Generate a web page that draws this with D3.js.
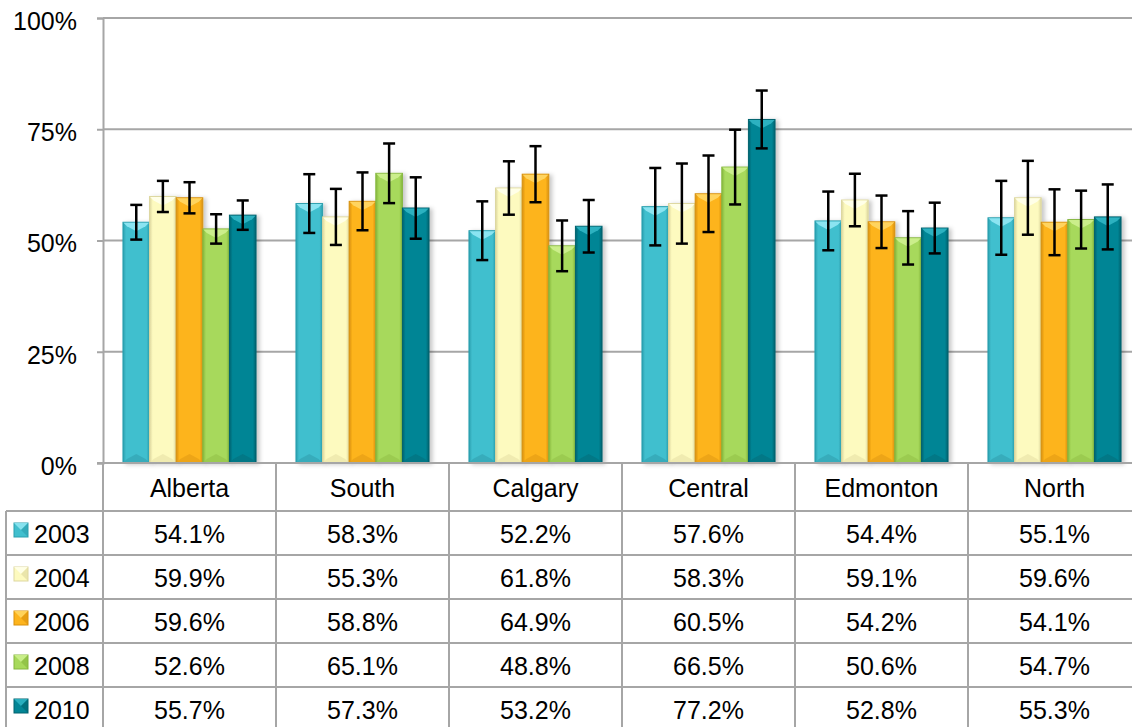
<!DOCTYPE html>
<html>
<head>
<meta charset="utf-8">
<script src="https://cdn.jsdelivr.net/npm/d3@7"></script>
<style>
  html, body { margin: 0; padding: 0; background: #ffffff; }
  svg { display: block; font-family: "Liberation Sans", Arial, sans-serif; }
</style>
</head>
<body>
<div id="chart"></div>
<script>
// ---------- data ----------
const categories = ["Alberta", "South", "Calgary", "Central", "Edmonton", "North"];
const years = ["2003", "2004", "2006", "2008", "2010"];
const values2003 = [54.1, 58.3, 52.2, 57.6, 54.4, 55.1];
const values2004 = [59.9, 55.3, 61.8, 58.3, 59.1, 59.6];
const values2006 = [59.6, 58.8, 64.9, 60.5, 54.2, 54.1];
const values2008 = [52.6, 65.1, 48.8, 66.5, 50.6, 54.7];
const values2010 = [55.7, 57.3, 53.2, 77.2, 52.8, 55.3];
// error margins (±, percentage points)
const err2003 = [3.9, 6.6, 6.6, 8.7, 6.6, 8.3];
const err2004 = [3.5, 6.3, 6.0, 9.0, 5.9, 8.3];
const err2006 = [3.5, 6.5, 6.3, 8.6, 5.9, 7.4];
const err2008 = [3.3, 6.7, 5.7, 8.4, 6.0, 6.5];
const err2010 = [3.3, 6.9, 5.9, 6.5, 5.7, 7.3];
const yTicks = [0, 25, 50, 75, 100];

const seriesValues = [values2003, values2004, values2006, values2008, values2010];
const seriesErrors = [err2003, err2004, err2006, err2008, err2010];
const colors = [
  { base: "#41bfce", edge: "#2b9fae", top: "#8fe6f2", bot: "#35a8b7" },
  { base: "#fdfabf", edge: "#ddd79f", top: "#ffffea", bot: "#ece7ad" },
  { base: "#fdb41d", edge: "#d8900d", top: "#ffd663", bot: "#e8a116" },
  { base: "#a7d95b", edge: "#85b63e", top: "#ccef8d", bot: "#98c74e" },
  { base: "#038595", edge: "#02626e", top: "#2eb3c2", bot: "#037482" }
];

// ---------- layout ----------
const W = 1132, H = 727;
const plotLeft = 103, plotRight = 1141, plotTop = 18, plotBottom = 463;
const headerBottom = 511, rowH = 44, tableLeft = 6;
const gridColor = "#a6a6a6";

const svg = d3.select("#chart").append("svg").attr("width", W).attr("height", H);
const defs = svg.append("defs");

colors.forEach((c, i) => {
  const g = defs.append("linearGradient").attr("id", "grad" + i)
    .attr("x1", "0%").attr("x2", "100%").attr("y1", "0%").attr("y2", "0%");
  g.append("stop").attr("offset", "0%").attr("stop-color", c.edge);
  g.append("stop").attr("offset", "12%").attr("stop-color", c.base);
  g.append("stop").attr("offset", "88%").attr("stop-color", c.base);
  g.append("stop").attr("offset", "100%").attr("stop-color", c.edge);
});
const shadow = defs.append("filter").attr("id", "shadow")
  .attr("x", "-20%").attr("y", "-5%").attr("width", "150%").attr("height", "115%");
shadow.append("feDropShadow").attr("dx", 3).attr("dy", 1).attr("stdDeviation", 2)
  .attr("flood-color", "#000").attr("flood-opacity", 0.22);

const x0 = d3.scaleBand().domain(categories).range([plotLeft, plotRight]).paddingInner(0).paddingOuter(0);
const x1 = d3.scaleBand().domain(years).range([0, x0.bandwidth()]).paddingInner(0).paddingOuter(0.75);
const y = d3.scaleLinear().domain([0, 100]).range([plotBottom, plotTop]);

// gridlines
svg.append("g").selectAll("line").data(yTicks).join("line")
  .attr("x1", plotLeft).attr("x2", plotRight)
  .attr("y1", d => y(d)).attr("y2", d => y(d))
  .attr("stroke", gridColor).attr("stroke-width", 2);

// y axis
const yAxis = svg.append("g").attr("transform", `translate(${plotLeft},0)`)
  .call(d3.axisLeft(y).tickValues(yTicks).tickFormat(d => d + "%").tickSize(6).tickPadding(20));
yAxis.select(".domain").attr("stroke", gridColor).attr("stroke-width", 2);
yAxis.selectAll(".tick line").attr("stroke", gridColor).attr("stroke-width", 2);
yAxis.selectAll(".tick text").attr("font-size", 25).attr("fill", "#000")
  .attr("font-family", "'Liberation Sans', Arial, sans-serif").attr("dy", "0.45em");

// bars
const barData = [];
years.forEach((yr, si) => {
  categories.forEach((cat, ci) => {
    barData.push({ yr, si, cat, v: seriesValues[si][ci], e: seriesErrors[si][ci] });
  });
});

const bars = svg.append("g").selectAll("g.bar").data(barData).join("g").attr("class", "bar");
bars.append("rect")
  .attr("x", d => x0(d.cat) + x1(d.yr))
  .attr("y", d => y(d.v))
  .attr("width", x1.bandwidth())
  .attr("height", d => y(0) - y(d.v))
  .attr("fill", d => `url(#grad${d.si})`)
  .attr("stroke", d => colors[d.si].edge).attr("stroke-width", 1)
  .attr("filter", "url(#shadow)");
// top bevel
bars.append("path")
  .attr("d", d => {
    const xl = x0(d.cat) + x1(d.yr), w = x1.bandwidth(), t = y(d.v);
    return `M${xl + 0.5},${t + 0.5} L${xl + w - 0.5},${t + 0.5} L${xl + w - 4},${t + 4} L${xl + w / 2},${t + 9} L${xl + 4},${t + 4} Z`;
  })
  .attr("fill", d => colors[d.si].top).attr("opacity", 0.95);
// bottom bevel
bars.append("path")
  .attr("d", d => {
    const xl = x0(d.cat) + x1(d.yr), w = x1.bandwidth(), b = y(0);
    return `M${xl + 0.5},${b - 0.5} L${xl + w - 0.5},${b - 0.5} L${xl + w - 4},${b - 4} L${xl + w / 2},${b - 9} L${xl + 4},${b - 4} Z`;
  })
  .attr("fill", d => colors[d.si].bot).attr("opacity", 0.8);

// error bars
const eg = svg.append("g").attr("stroke", "#000").attr("stroke-width", 2.5);
barData.forEach(d => {
  const cx = x0(d.cat) + x1(d.yr) + x1.bandwidth() / 2;
  const yt = y(d.v + d.e), yb = y(d.v - d.e);
  eg.append("line").attr("x1", cx).attr("x2", cx).attr("y1", yt).attr("y2", yb);
  eg.append("line").attr("x1", cx - 6).attr("x2", cx + 6).attr("y1", yt).attr("y2", yt);
  eg.append("line").attr("x1", cx - 6).attr("x2", cx + 6).attr("y1", yb).attr("y2", yb);
});

// ---------- data table ----------
const tg = svg.append("g");
const tableBottom = H + 10;
// horizontal lines
const rowLines = years.map((_, i) => headerBottom + i * rowH);
tg.selectAll("line.h").data(rowLines).join("line").attr("class", "h")
  .attr("x1", tableLeft).attr("x2", plotRight)
  .attr("y1", d => d).attr("y2", d => d)
  .attr("stroke", gridColor).attr("stroke-width", 2);
// baseline
tg.append("line").attr("x1", plotLeft - 6).attr("x2", plotRight)
  .attr("y1", plotBottom).attr("y2", plotBottom).attr("stroke", gridColor).attr("stroke-width", 2);
// vertical lines
tg.append("line").attr("x1", tableLeft).attr("x2", tableLeft)
  .attr("y1", headerBottom).attr("y2", tableBottom).attr("stroke", gridColor).attr("stroke-width", 2);
tg.append("line").attr("x1", plotLeft).attr("x2", plotLeft)
  .attr("y1", plotBottom).attr("y2", tableBottom).attr("stroke", gridColor).attr("stroke-width", 2);
tg.selectAll("line.v").data(categories).join("line").attr("class", "v")
  .attr("x1", d => x0(d) + x0.bandwidth()).attr("x2", d => x0(d) + x0.bandwidth())
  .attr("y1", plotBottom).attr("y2", tableBottom)
  .attr("stroke", gridColor).attr("stroke-width", 2);

// header labels
tg.selectAll("text.cat").data(categories).join("text").attr("class", "cat")
  .attr("x", d => x0(d) + x0.bandwidth() / 2)
  .attr("y", 497)
  .attr("text-anchor", "middle").attr("font-size", 25).attr("fill", "#000")
  .text(d => d);

// rows
const fmt = d3.format(".1f");
years.forEach((yr, si) => {
  const top = headerBottom + si * rowH;
  const base = top + 32;
  // legend key
  const kx = 14, ky = top + 12, ks = 14;
  const key = tg.append("g");
  key.append("rect").attr("x", kx).attr("y", ky).attr("width", ks).attr("height", ks)
    .attr("fill", colors[si].base).attr("stroke", colors[si].edge).attr("stroke-width", 1);
  key.append("path")
    .attr("d", `M${kx},${ky} L${kx + ks},${ky} L${kx + ks / 2},${ky + ks / 2} Z`)
    .attr("fill", colors[si].top).attr("opacity", 0.9);
  key.append("path")
    .attr("d", `M${kx + ks},${ky} L${kx + ks},${ky + ks} L${kx + ks / 2},${ky + ks / 2} Z`)
    .attr("fill", colors[si].edge).attr("opacity", 0.6);
  tg.append("text").attr("x", 34).attr("y", base).attr("font-size", 25).attr("fill", "#000").text(yr);
  categories.forEach((cat, ci) => {
    tg.append("text")
      .attr("x", x0(cat) + x0.bandwidth() / 2)
      .attr("y", base)
      .attr("text-anchor", "middle").attr("font-size", 25).attr("fill", "#000")
      .text(fmt(seriesValues[si][ci]) + "%");
  });
});
</script>
</body>
</html>
